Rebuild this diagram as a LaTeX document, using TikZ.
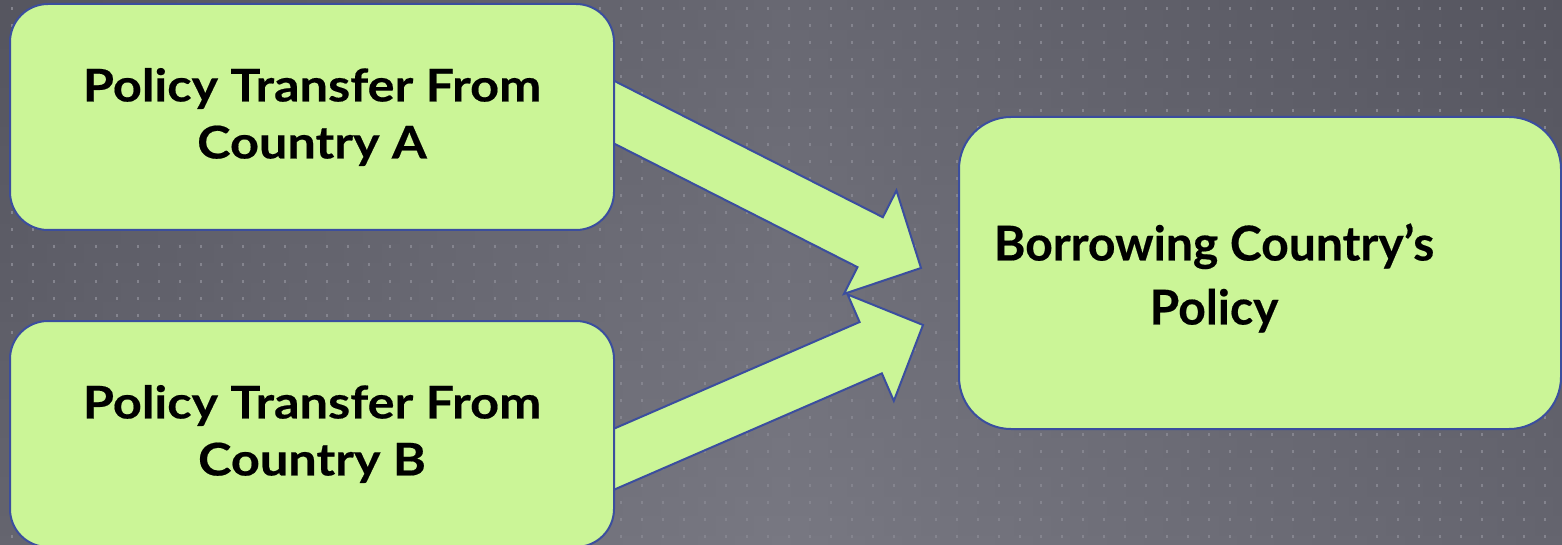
\documentclass[tikz,border=0pt]{standalone}
\usepackage{fontspec}
\setmainfont{Lato}
\newfontfamily\srcfont{Lato}[FakeStretch=1.12, FakeBold=0.4]
\newfontfamily\destfont{Lato}[FakeBold=0.4]
\usetikzlibrary{calc, positioning}
\definecolor{boxGreen}{RGB}{203,245,151}
\definecolor{edgeBlue}{RGB}{59,78,158}
\definecolor{bgTop}{RGB}{92,92,102}
\definecolor{bgBottom}{RGB}{120,120,130}
\definecolor{bgEdge}{RGB}{78,78,88}
\definecolor{dotGray}{RGB}{132,132,142}

% block arrow from tail point #1 to tip #2
\newcommand{\blockarrow}[2]{%
    \coordinate (hb) at ($(#2)!28.5pt!(#1)$);
    \draw[flowarrow] ($(#1)!14pt!90:(#2)$) -- ($(hb)!14pt!90:(#2)$)
        -- ($(hb)!29pt!90:(#2)$) -- (#2) -- ($(hb)!29pt!-90:(#2)$)
        -- ($(hb)!14pt!-90:(#2)$) -- ($(#1)!14pt!-90:(#2)$) -- cycle;
}

\begin{document}
\begin{tikzpicture}[x=0.5pt, y=-0.5pt,
    policybox/.style={draw=edgeBlue, line width=1pt, fill=boxGreen, align=center,
        rounded corners=19pt, minimum width=302pt, minimum height=113pt,
        font=\srcfont\bfseries\fontsize{22.5}{28.5}\selectfont},
    flowarrow/.style={draw=edgeBlue, line width=1pt, fill=boxGreen, line join=miter}]
    \useasboundingbox (0,0) rectangle (1562,545);
    \clip (0,0) rectangle (1562,545);

    % background
    \shade[top color=bgTop, bottom color=bgBottom] (0,0) rectangle (1562,545);
    \shade[left color=bgEdge, right color=bgEdge, middle color=bgBottom, opacity=0.45] (0,0) rectangle (1562,545);
    \foreach \i in {0,...,73}
        \foreach \j in {0,...,31}
            \fill[dotGray] ({11+21*\i}, {7.5+17*\j}) rectangle ++(2,3);

    % arrows
    \coordinate (tailA) at (596,103);
    \coordinate (tipA) at (921,268);
    \coordinate (tailB) at (596,467);
    \coordinate (tipB) at (923,325);
    \blockarrow{tailA}{tipA}
    \blockarrow{tailB}{tipB}

    % boxes
    \node[policybox] (srcA) at (312,117) {Policy Transfer From\\Country A};
    \node[policybox] (srcB) at (312,434) {Policy Transfer From\\Country B};
    \node[policybox, rounded corners=26pt, minimum width=301pt, minimum height=156pt] (dest) at (1260,273) {};
    \node[font=\destfont\bfseries\fontsize{24}{32}\selectfont, align=center] (destText) at (1214,278) {Borrowing Country’s\\Policy};
\end{tikzpicture}
\end{document}
